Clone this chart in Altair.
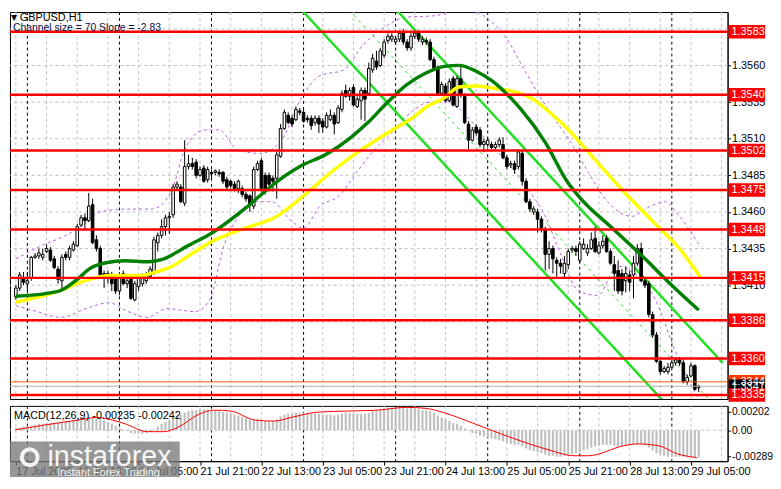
import json
import altair as alt
import pandas as pd

FONT = "Liberation Sans"

# ---------------- candles (H1 bars, bar 0 = 17 Jul 21:00) ----------------
opens = [1.3402, 1.3408, 1.3415, 1.3411, 1.3415, 1.3429, 1.3430, 1.3429, 1.3433, 1.3434,
         1.3428, 1.3421, 1.3413, 1.3431, 1.3429, 1.3434, 1.3437, 1.3451, 1.3456, 1.3454,
         1.3465, 1.3441, 1.3435, 1.3418, 1.3415, 1.3417, 1.3415, 1.3406, 1.3418, 1.3411,
         1.3415, 1.3400, 1.3409, 1.3411, 1.3413, 1.3416, 1.3419, 1.3439, 1.3444, 1.3450,
         1.3456, 1.3458, 1.3477, 1.3477, 1.3466, 1.3491, 1.3493, 1.3494, 1.3485, 1.3490,
         1.3482, 1.3487, 1.3487, 1.3487, 1.3487, 1.3482, 1.3481, 1.3479, 1.3476, 1.3476,
         1.3472, 1.3471, 1.3464, 1.3489, 1.3495, 1.3485, 1.3485, 1.3483, 1.3483, 1.3498,
         1.3517, 1.3526, 1.3524, 1.3523, 1.3529, 1.3528, 1.3524, 1.3524, 1.3521, 1.3524,
         1.3522, 1.3518, 1.3523, 1.3526, 1.3521, 1.3530, 1.3543, 1.3539, 1.3545, 1.3532,
         1.3536, 1.3543, 1.3541, 1.3557, 1.3563, 1.3560, 1.3567, 1.3577, 1.3578, 1.3576,
         1.3578, 1.3583, 1.3576, 1.3572, 1.3580, 1.3582, 1.3576, 1.3577, 1.3576, 1.3564,
         1.3558, 1.3541, 1.3546, 1.3536, 1.3551, 1.3532, 1.3551, 1.3539, 1.3520, 1.3509,
         1.3518, 1.3516, 1.3506, 1.3506, 1.3506, 1.3504, 1.3506, 1.3506, 1.3497, 1.3492,
         1.3493, 1.3491, 1.3500, 1.3481, 1.3467, 1.3460, 1.3460, 1.3455, 1.3448, 1.3431,
         1.3435, 1.3427, 1.3425, 1.3418, 1.3424, 1.3434, 1.3435, 1.3427, 1.3435, 1.3432,
         1.3435, 1.3442, 1.3432, 1.3437, 1.3442, 1.3433, 1.3424, 1.3420, 1.3418, 1.3413,
         1.3417, 1.3417, 1.3425, 1.3435, 1.3413, 1.3411, 1.3390, 1.3376, 1.3358, 1.3351,
         1.3351, 1.3354, 1.3357, 1.3359, 1.3357, 1.3344, 1.3348, 1.3355, 1.3340]
highs = [1.3410, 1.3419, 1.3419, 1.3419, 1.3430, 1.3432, 1.3435, 1.3435, 1.3438, 1.3436,
         1.3430, 1.3423, 1.3431, 1.3433, 1.3437, 1.3440, 1.3452, 1.3458, 1.3459, 1.3473,
         1.3469, 1.3444, 1.3437, 1.3420, 1.3420, 1.3419, 1.3417, 1.3419, 1.3420, 1.3415,
         1.3417, 1.3413, 1.3417, 1.3418, 1.3419, 1.3423, 1.3443, 1.3446, 1.3455, 1.3458,
         1.3460, 1.3479, 1.3481, 1.3479, 1.3509, 1.3499, 1.3497, 1.3496, 1.3491, 1.3492,
         1.3491, 1.3489, 1.3489, 1.3489, 1.3488, 1.3484, 1.3482, 1.3481, 1.3482, 1.3478,
         1.3474, 1.3472, 1.3491, 1.3495, 1.3497, 1.3487, 1.3487, 1.3485, 1.3501, 1.3520,
         1.3530, 1.3528, 1.3526, 1.3532, 1.3531, 1.3530, 1.3526, 1.3526, 1.3526, 1.3526,
         1.3524, 1.3528, 1.3530, 1.3528, 1.3533, 1.3543, 1.3547, 1.3545, 1.3547, 1.3539,
         1.3545, 1.3545, 1.3562, 1.3568, 1.3570, 1.3572, 1.3578, 1.3582, 1.3582, 1.3580,
         1.3584, 1.3585, 1.3578, 1.3582, 1.3584, 1.3584, 1.3580, 1.3579, 1.3578, 1.3566,
         1.3560, 1.3549, 1.3548, 1.3551, 1.3553, 1.3553, 1.3559, 1.3541, 1.3522, 1.3518,
         1.3520, 1.3518, 1.3510, 1.3511, 1.3508, 1.3508, 1.3511, 1.3511, 1.3499, 1.3495,
         1.3495, 1.3503, 1.3502, 1.3483, 1.3469, 1.3464, 1.3462, 1.3457, 1.3450, 1.3440,
         1.3437, 1.3429, 1.3428, 1.3430, 1.3435, 1.3437, 1.3437, 1.3440, 1.3442, 1.3438,
         1.3446, 1.3450, 1.3440, 1.3444, 1.3444, 1.3435, 1.3430, 1.3427, 1.3421, 1.3423,
         1.3420, 1.3430, 1.3438, 1.3439, 1.3415, 1.3413, 1.3392, 1.3378, 1.3359, 1.3355,
         1.3357, 1.3359, 1.3361, 1.3361, 1.3359, 1.3349, 1.3357, 1.3356, 1.3342]
lows = [1.3400, 1.3406, 1.3410, 1.3406, 1.3413, 1.3428, 1.3428, 1.3427, 1.3432, 1.3426,
        1.3421, 1.3411, 1.3408, 1.3427, 1.3427, 1.3433, 1.3436, 1.3450, 1.3448, 1.3453,
        1.3438, 1.3433, 1.3415, 1.3408, 1.3411, 1.3406, 1.3404, 1.3403, 1.3410, 1.3408,
        1.3400, 1.3399, 1.3406, 1.3409, 1.3411, 1.3415, 1.3417, 1.3433, 1.3442, 1.3444,
        1.3445, 1.3456, 1.3475, 1.3466, 1.3464, 1.3489, 1.3489, 1.3483, 1.3484, 1.3480,
        1.3480, 1.3483, 1.3485, 1.3484, 1.3479, 1.3475, 1.3476, 1.3474, 1.3473, 1.3470,
        1.3467, 1.3460, 1.3462, 1.3488, 1.3474, 1.3472, 1.3474, 1.3474, 1.3469, 1.3497,
        1.3516, 1.3520, 1.3518, 1.3522, 1.3526, 1.3521, 1.3521, 1.3516, 1.3519, 1.3514,
        1.3514, 1.3517, 1.3522, 1.3513, 1.3520, 1.3528, 1.3538, 1.3536, 1.3532, 1.3531,
        1.3523, 1.3522, 1.3540, 1.3555, 1.3557, 1.3559, 1.3565, 1.3575, 1.3576, 1.3574,
        1.3576, 1.3574, 1.3570, 1.3570, 1.3578, 1.3576, 1.3574, 1.3574, 1.3563, 1.3557,
        1.3540, 1.3540, 1.3535, 1.3535, 1.3532, 1.3531, 1.3538, 1.3520, 1.3503, 1.3508,
        1.3512, 1.3504, 1.3501, 1.3504, 1.3503, 1.3503, 1.3504, 1.3496, 1.3489, 1.3490,
        1.3486, 1.3489, 1.3478, 1.3466, 1.3460, 1.3458, 1.3446, 1.3446, 1.3420, 1.3421,
        1.3418, 1.3415, 1.3418, 1.3415, 1.3421, 1.3432, 1.3430, 1.3425, 1.3434, 1.3430,
        1.3434, 1.3432, 1.3431, 1.3435, 1.3432, 1.3424, 1.3406, 1.3404, 1.3403, 1.3405,
        1.3406, 1.3401, 1.3423, 1.3412, 1.3408, 1.3388, 1.3374, 1.3357, 1.3349, 1.3350,
        1.3349, 1.3353, 1.3355, 1.3355, 1.3343, 1.3342, 1.3347, 1.3338, 1.3337]
closes = [1.3408, 1.3417, 1.3412, 1.3413, 1.3429, 1.3430, 1.3432, 1.3431, 1.3435, 1.3427,
          1.3422, 1.3414, 1.3429, 1.3429, 1.3435, 1.3438, 1.3450, 1.3456, 1.3454, 1.3464,
          1.3439, 1.3435, 1.3417, 1.3416, 1.3418, 1.3411, 1.3406, 1.3417, 1.3411, 1.3413,
          1.3401, 1.3411, 1.3415, 1.3416, 1.3417, 1.3421, 1.3441, 1.3444, 1.3450, 1.3456,
          1.3457, 1.3477, 1.3479, 1.3467, 1.3491, 1.3493, 1.3491, 1.3485, 1.3489, 1.3481,
          1.3489, 1.3486, 1.3488, 1.3486, 1.3481, 1.3477, 1.3478, 1.3476, 1.3481, 1.3472,
          1.3469, 1.3465, 1.3489, 1.3493, 1.3476, 1.3474, 1.3479, 1.3481, 1.3499, 1.3517,
          1.3528, 1.3521, 1.3520, 1.3530, 1.3528, 1.3522, 1.3523, 1.3519, 1.3524, 1.3520,
          1.3518, 1.3526, 1.3526, 1.3520, 1.3531, 1.3541, 1.3539, 1.3543, 1.3533, 1.3537,
          1.3543, 1.3537, 1.3558, 1.3565, 1.3559, 1.3570, 1.3576, 1.3580, 1.3580, 1.3578,
          1.3582, 1.3576, 1.3572, 1.3580, 1.3582, 1.3578, 1.3578, 1.3576, 1.3564, 1.3558,
          1.3541, 1.3547, 1.3536, 1.3549, 1.3533, 1.3551, 1.3540, 1.3521, 1.3509, 1.3516,
          1.3514, 1.3506, 1.3508, 1.3509, 1.3504, 1.3506, 1.3509, 1.3497, 1.3491, 1.3493,
          1.3489, 1.3501, 1.3481, 1.3467, 1.3462, 1.3462, 1.3455, 1.3449, 1.3431, 1.3435,
          1.3428, 1.3425, 1.3423, 1.3425, 1.3433, 1.3435, 1.3433, 1.3438, 1.3438, 1.3435,
          1.3441, 1.3433, 1.3437, 1.3440, 1.3433, 1.3425, 1.3418, 1.3406, 1.3406, 1.3418,
          1.3412, 1.3425, 1.3435, 1.3413, 1.3410, 1.3390, 1.3376, 1.3358, 1.3351, 1.3353,
          1.3354, 1.3357, 1.3359, 1.3357, 1.3344, 1.3347, 1.3355, 1.3339, 1.3341]

# ---------------- indicators ----------------
ma_green_bar = [0, 11, 16, 19.25, 23.5, 28.5, 34.25, 39.25, 42.5, 44.25, 51, 59.75, 68, 74.75,
                80.5, 88, 91.75, 96.75, 101.75, 106.75, 111.75, 115.5, 120, 124.25, 128.5,
                131.75, 138, 143.75, 147.25, 155.5, 163.75, 170.5, 178]
ma_green_val = [1.34024, 1.34058, 1.34139, 1.34213, 1.34253, 1.34267, 1.34260, 1.34287, 1.34334,
                1.34361, 1.34455, 1.34624, 1.34806, 1.34920, 1.34988, 1.35123, 1.35210, 1.35345,
                1.35466, 1.35547, 1.35594, 1.35601, 1.35561, 1.35493, 1.35392, 1.35298, 1.35075,
                1.34806, 1.34691, 1.34489, 1.34287, 1.34112, 1.33930]
ma_yellow_bar = [0, 7.5, 11.75, 16, 21, 24.25, 32.5, 36, 41, 44.25, 51.25, 59.75, 68, 72.25,
                 76.25, 82.25, 88, 95, 99.25, 103.5, 107.5, 111.75, 115.5, 120, 124.25, 129.25,
                 134.25, 139.25, 144.25, 149.25, 158.5, 166, 173.5, 178.5]
ma_yellow_val = [1.33984, 1.34031, 1.34064, 1.34112, 1.34152, 1.34166, 1.34166, 1.34186, 1.34233,
                 1.34287, 1.34401, 1.34489, 1.34570, 1.34651, 1.34738, 1.34873, 1.34988, 1.35109,
                 1.35177, 1.35244, 1.35325, 1.35379, 1.35453, 1.35460, 1.35446, 1.35426, 1.35379,
                 1.35278, 1.35156, 1.35008, 1.34738, 1.34536, 1.34334, 1.34152]
band_up_bar = [0, 6.75, 13, 18, 21.75, 29.25, 35.5, 40.5, 44.25, 49.25, 53, 58, 63.75, 69.25,
               74.25, 79.25, 85.5, 90.5, 95.5, 101.75, 109.25, 116.75, 123, 128, 133, 139.25,
               145.5, 149.25, 154.25, 160.5, 165.5, 169.25, 173, 178]
band_up_val = [1.3428, 1.3437, 1.3444, 1.3452, 1.3460, 1.3462, 1.3462, 1.3474, 1.3504, 1.3516,
               1.3516, 1.3502, 1.3500, 1.3509, 1.3537, 1.3553, 1.3557, 1.3574, 1.3585, 1.3593,
               1.3594, 1.3599, 1.3592, 1.3578, 1.3555, 1.3528, 1.3504, 1.3487, 1.3467, 1.3457,
               1.3464, 1.3467, 1.3457, 1.3438]
band_lo_bar = [0, 5.5, 11.75, 19.25, 24.25, 29.25, 34.25, 39.25, 46.75, 50.5, 54.25, 58, 63,
               66.75, 71.75, 75, 79.25, 84.25, 88, 93, 98, 103, 108, 113, 118, 123, 128, 133,
               138, 141.75, 146.75, 151.75, 156.75, 161.75, 166.75, 171.75, 178]
band_lo_val = [1.3396, 1.3392, 1.3388, 1.3395, 1.3398, 1.3392, 1.3388, 1.3394, 1.3392, 1.3400,
               1.3437, 1.3457, 1.3467, 1.3467, 1.3454, 1.3449, 1.3464, 1.3471, 1.3484, 1.3501,
               1.3514, 1.3528, 1.3535, 1.3535, 1.3524, 1.3508, 1.3494, 1.3477, 1.3457, 1.3433,
               1.3406, 1.3403, 1.3423, 1.3417, 1.3400, 1.3366, 1.3332]

# regression channel (Channel size = 70, slope -2.83)
chan_bar = [60, 184.25]
chan_upper = [1.3709, 1.3357]
chan_middle = [1.3674, 1.3322]
chan_lower = [1.3639, 1.3287]

# ---------------- MACD ----------------
macd_hist = [0.0003, 0.0003, 0.0004, 0.0004,
             0.0005, 0.0006, 0.0007, 0.0007, 0.0008, 0.0008,
             0.0008, 0.0008, 0.0009, 0.0010, 0.0010, 0.0011,
             0.0012, 0.0013, 0.0013, 0.0014, 0.0014, 0.0013, 0.0012, 0.0011, 0.0009, 0.0007, 0.0005, 0.0003,
             0.0001, -0.0001, -0.0003, -0.0004, -0.0004, -0.0004, -0.0003, -0.0002, 0.0001,
             0.0004, 0.0007, 0.0009, 0.0011, 0.0014, 0.0016, 0.0017, 0.0019,
             0.0021, 0.0022, 0.0022, 0.0023, 0.0023, 0.0023, 0.0022,
             0.0022, 0.0021, 0.0020, 0.0019, 0.0018, 0.0017, 0.0016, 0.0015,
             0.0014, 0.0012, 0.0012, 0.0012, 0.0011, 0.0010, 0.0010,
             0.0010, 0.0012, 0.0015, 0.0017, 0.0018, 0.0018, 0.0019, 0.0019,
             0.0019, 0.0019, 0.0018, 0.0018, 0.0018, 0.0017, 0.0017, 0.0017, 0.0016, 0.0017,
             0.0018, 0.0019, 0.0019, 0.0018, 0.0018, 0.0018, 0.0018, 0.0019, 0.0021, 0.0022,
             0.0023, 0.0024, 0.0025, 0.0025, 0.0025, 0.0025, 0.0025, 0.0024, 0.0024, 0.0024,
             0.0023, 0.0022, 0.0022, 0.0021, 0.0019, 0.0016, 0.0014, 0.0012, 0.0010, 0.0008,
             0.0007, 0.0005, 0.0002, -0.0001, -0.0003, -0.0004, -0.0006, -0.0007, -0.0008, -0.0009,
             -0.0010, -0.0011, -0.0012, -0.0014, -0.0015, -0.0016, -0.0016,
             -0.0018, -0.0020, -0.0022, -0.0023, -0.0024, -0.0025, -0.0027, -0.0028, -0.0028, -0.0029,
             -0.0029, -0.0028, -0.0027, -0.0026, -0.0025, -0.0024, -0.0022, -0.0021, -0.0019, -0.0018,
             -0.0017, -0.0016, -0.0016, -0.0016, -0.0017, -0.0018, -0.0018, -0.0017, -0.0017, -0.0016,
             -0.0016, -0.0015, -0.0016, -0.0019, -0.0022, -0.0025, -0.0027, -0.0028, -0.0029, -0.0029,
             -0.0029, -0.0029, -0.0029, -0.0030, -0.0030, -0.0030, -0.0030]
signal_bar = [0, 7.5, 16, 21, 24.25, 28.5, 34.25, 38.5, 42.5, 47.5, 51.75, 56, 62.5, 67.5, 71.75,
              79.25, 86.75, 94.25, 101.75, 106.75, 111.75, 117.75, 124.25, 131.75, 139.25, 145.5,
              149.25, 158.5, 161.75, 167.5, 172.5, 177.5]
signal_val = [0.00005, 0.00057, 0.0011, 0.0014, 0.0012, 0.0007, -0.00016, -0.00016, 0.00037,
              0.0017, 0.0022, 0.0021, 0.0011, 0.0010, 0.0014, 0.0020, 0.0021, 0.0022, 0.0025,
              0.0024, 0.0019, 0.0010, -0.00005, -0.0012, -0.0022, -0.0028, -0.0028, -0.0017,
              -0.0015, -0.0017, -0.0026, -0.0030]

# ---------------- levels, grid, labels ----------------
level_prices = [1.3583, 1.3540, 1.3502, 1.3475, 1.3448, 1.3415, 1.3386, 1.3360, 1.3335]
grid_prices = [1.3335, 1.3360, 1.3385, 1.3410, 1.3435, 1.3460, 1.3485, 1.3510, 1.3535, 1.3560, 1.3585]
axis_prices = [1.3410, 1.3435, 1.3460, 1.3485, 1.3510, 1.3535, 1.3560]
vgrid_bars = list(range(0, 185, 8))
day_sep_bars = [3, 27, 51, 75, 99, 123, 147, 171]
date_label_bars = [0, 16, 32, 48, 64, 80, 96, 112, 128, 144, 160, 176]
date_labels = ["17 Jul 2025", "18 Jul 13:00", "21 Jul 05:00", "21 Jul 21:00", "22 Jul 13:00",
               "23 Jul 05:00", "23 Jul 21:00", "24 Jul 13:00", "25 Jul 05:00", "25 Jul 21:00",
               "28 Jul 13:00", "29 Jul 05:00"]
ask_price, bid_price = 1.3344, 1.3341
macd_ticks = [0.00202, 0.0, -0.00289]

# ---------------- layout ----------------
W = 727
H_MAIN = 392
H_MACD = 56
P_LO, P_HI = 1.33323, 1.35965
M_LO, M_HI = -0.003395, 0.002664
X_DOM = [-0.25, 184.25]

n = min(len(opens), len(highs), len(lows), len(closes), len(macd_hist))
candles = pd.DataFrame({
    "i": list(range(n)), "o": opens[:n], "h": highs[:n], "l": lows[:n], "c": closes[:n],
})
candles["top"] = candles[["o", "c"]].max(axis=1)
candles["bot"] = candles[["o", "c"]].min(axis=1)
candles["up"] = candles["c"] >= candles["o"]

xsc = alt.Scale(domain=X_DOM, nice=False, zero=False)
ysc = alt.Scale(domain=[P_LO, P_HI], nice=False, zero=False)
msc = alt.Scale(domain=[M_LO, M_HI], nice=False, zero=False)

y_axis = alt.Axis(orient="right", values=axis_prices, format=".4f", title=None, grid=False,
                  tickSize=3, labelPadding=1, labelFontSize=11, labelFont=FONT,
                  labelColor="black", domainColor="black", tickColor="black")
X = lambda f="i": alt.X(f, type="quantitative", scale=xsc, axis=None)
Y = lambda f: alt.Y(f, type="quantitative", scale=ysc, axis=y_axis)

g1 = alt.Chart(pd.DataFrame({"i": vgrid_bars})).mark_rule(
    color="#c0c0c0", strokeDash=[3, 3], strokeWidth=1).encode(x=X())
d1 = alt.Chart(pd.DataFrame({"i": day_sep_bars})).mark_rule(
    color="black", strokeDash=[3, 3], strokeWidth=1).encode(x=X())
hgrid = alt.Chart(pd.DataFrame({"p": grid_prices})).mark_rule(
    color="#c0c0c0", strokeDash=[3, 3], strokeWidth=1).encode(y=Y("p"))

band_up = alt.Chart(pd.DataFrame({"i": band_up_bar, "p": band_up_val})).mark_line(
    color="#b45fe0", strokeDash=[3, 3], strokeWidth=1, interpolate="monotone", clip=True
).encode(x=X(), y=Y("p"))
band_lo = alt.Chart(pd.DataFrame({"i": band_lo_bar, "p": band_lo_val})).mark_line(
    color="#b45fe0", strokeDash=[3, 3], strokeWidth=1, interpolate="monotone", clip=True
).encode(x=X(), y=Y("p"))

chan_df = pd.DataFrame({"i": chan_bar, "up": chan_upper, "mid": chan_middle, "lo": chan_lower})
chan_u = alt.Chart(chan_df).mark_line(color="#22e022", strokeWidth=2.5, clip=True).encode(x=X(), y=Y("up"))
chan_l = alt.Chart(chan_df).mark_line(color="#22e022", strokeWidth=2.5, clip=True).encode(x=X(), y=Y("lo"))
chan_m = alt.Chart(chan_df).mark_line(color="#22e022", strokeWidth=1, strokeDash=[3, 4], clip=True).encode(x=X(), y=Y("mid"))

wicks = alt.Chart(candles).mark_rule(color="black", strokeWidth=1, clip=True).encode(
    x=X(), y=Y("l"), y2="h")
bodies = alt.Chart(candles).mark_bar(size=2.6, stroke="black", strokeWidth=1, clip=True).encode(
    x=X(), y=Y("bot"), y2="top",
    fill=alt.condition("datum.up", alt.value("white"), alt.value("black")))

ma_g = alt.Chart(pd.DataFrame({"i": ma_green_bar, "p": ma_green_val})).mark_line(
    color="#008000", strokeWidth=3.5, interpolate="monotone", clip=True).encode(x=X(), y=Y("p"))
ma_y = alt.Chart(pd.DataFrame({"i": ma_yellow_bar, "p": ma_yellow_val})).mark_line(
    color="#ffff00", strokeWidth=3.5, interpolate="monotone", clip=True).encode(x=X(), y=Y("p"))

levels = alt.Chart(pd.DataFrame({"p": level_prices})).mark_rule(
    color="#ff0000", strokeWidth=2.5).encode(y=Y("p"))
ask_line = alt.Chart(pd.DataFrame({"p": [ask_price]})).mark_rule(
    color="#ff5a00", strokeWidth=1).encode(y=Y("p"))
bid_line = alt.Chart(pd.DataFrame({"p": [bid_price]})).mark_rule(
    color="#b0b0b0", strokeWidth=1).encode(y=Y("p"))

half = 0.00046
lab_rows = [(ask_price, "#ff3c00"), (bid_price, "#000000")] + [(p, "#ff0000") for p in level_prices]
lab_df = pd.DataFrame({"p": [r[0] for r in lab_rows], "col": [r[1] for r in lab_rows],
                       "ord": list(range(len(lab_rows)))})
lab_df["txt"] = lab_df["p"].map(lambda v: f"{v:.4f}")
lab_df["lo"] = lab_df["p"] - half
lab_df["hi"] = lab_df["p"] + half
boxes = alt.Chart(lab_df).mark_rect().encode(
    x=alt.value(W + 1), x2=alt.value(W + 38), y=Y("lo"), y2="hi",
    fill=alt.Color("col:N", scale=None), order="ord:Q")
box_txt = alt.Chart(lab_df).mark_text(
    align="left", baseline="middle", color="white", font=FONT, fontSize=11, dy=0.5
).encode(x=alt.value(W + 4), y=Y("p"), text="txt:N", order="ord:Q")

tri = alt.Chart(pd.DataFrame({"t": ["▼"]})).mark_text(
    align="left", baseline="top", font="DejaVu Sans", fontSize=8, color="black"
).encode(x=alt.value(1), y=alt.value(2), text="t:N")
title1 = alt.Chart(pd.DataFrame({"t": ["GBPUSD,H1"]})).mark_text(
    align="left", baseline="top", font=FONT, fontSize=11, color="black"
).encode(x=alt.value(10), y=alt.value(0), text="t:N")
title2 = alt.Chart(pd.DataFrame({"t": ["Channel size = 70 Slope = -2.83"]})).mark_text(
    align="left", baseline="top", font=FONT, fontSize=10.5, color="#0a0a40"
).encode(x=alt.value(3), y=alt.value(11), text="t:N")

main = alt.layer(
    hgrid, g1, d1, band_up, band_lo, chan_u, chan_l, chan_m, wicks, bodies, ma_y, ma_g,
    bid_line, ask_line, levels, boxes, box_txt, tri, title1, title2
).properties(width=W, height=H_MAIN)

# ---------------- MACD panel ----------------
label_expr = json.dumps(date_labels) + "[round(datum.value / 16)]"
x_axis = alt.Axis(orient="bottom", values=date_label_bars, labelExpr=label_expr, title=None,
                  grid=False, labelAlign="left", labelFlush=False, labelOverlap=False,
                  tickSize=4, labelPadding=1, labelFont=FONT, labelFontSize=11,
                  labelColor="black", domainColor="black", tickColor="black", labelBaseline="top")
m_axis = alt.Axis(orient="right", values=macd_ticks, title=None, grid=False, tickSize=3,
                  labelPadding=1, labelFont=FONT, labelFontSize=10.5, labelColor="black",
                  domainColor="black", tickColor="black",
                  labelExpr="datum.value > 0.001 ? '0.00202' : (datum.value < -0.001 ? '-0.00289' : '0.00')")
MX = lambda f="i": alt.X(f, type="quantitative", scale=xsc, axis=x_axis)
MY = lambda f: alt.Y(f, type="quantitative", scale=msc, axis=m_axis)

g2 = alt.Chart(pd.DataFrame({"i": vgrid_bars})).mark_rule(
    color="#c0c0c0", strokeDash=[3, 3], strokeWidth=1).encode(x=MX())
d2 = alt.Chart(pd.DataFrame({"i": day_sep_bars})).mark_rule(
    color="black", strokeDash=[3, 3], strokeWidth=1).encode(x=MX())
zero = alt.Chart(pd.DataFrame({"v": [0.0]})).mark_rule(
    color="#c0c0c0", strokeDash=[3, 3], strokeWidth=1).encode(y=MY("v"))
hist_df = pd.DataFrame({"i": list(range(n)), "v": macd_hist[:n], "z": [0.0] * n})
hist = alt.Chart(hist_df).mark_bar(size=2.2, color="#c0c0c0", clip=True).encode(
    x=MX(), y=MY("v"), y2="z")
signal = alt.Chart(pd.DataFrame({"i": signal_bar, "v": signal_val})).mark_line(
    color="#ff0000", strokeWidth=1, interpolate="monotone", clip=True).encode(x=MX(), y=MY("v"))
macd_title = alt.Chart(pd.DataFrame({"t": ["MACD(12,26,9) -0.00235 -0.00242"]})).mark_text(
    align="left", baseline="top", font=FONT, fontSize=11, color="black"
).encode(x=alt.value(4), y=alt.value(4), text="t:N")

wm_box = alt.Chart(pd.DataFrame({"a": [1]})).mark_rect(color="#7a7a7a", opacity=0.78).encode(
    x=alt.value(0), x2=alt.value(172), y=alt.value(36), y2=alt.value(72))
wm_logo = alt.Chart(pd.DataFrame({"a": [1]})).mark_point(
    shape="circle", size=260, filled=False, color="white", strokeWidth=4, opacity=0.9
).encode(x=alt.value(20), y=alt.value(52))
wm_text = alt.Chart(pd.DataFrame({"t": ["instaforex"]})).mark_text(
    align="left", baseline="alphabetic", font=FONT, fontSize=29, color="white", opacity=0.92
).encode(x=alt.value(38), y=alt.value(61), text="t:N")
wm_sub = alt.Chart(pd.DataFrame({"t": ["Instant Forex Trading"]})).mark_text(
    align="left", baseline="alphabetic", font=FONT, fontSize=11, color="white", opacity=0.9
).encode(x=alt.value(48), y=alt.value(71), text="t:N")

macd = alt.layer(
    g2, d2, zero, hist, signal, macd_title, wm_box, wm_logo, wm_text, wm_sub
).properties(width=W, height=H_MACD)

chart = alt.vconcat(main, macd, spacing=2).properties(
    padding={"left": 0, "top": 0, "right": 0, "bottom": 0}
).configure(background="white").configure_view(stroke="black", strokeWidth=1)

chart.save("out.html", embed_options={"renderer": "svg", "actions": False})
